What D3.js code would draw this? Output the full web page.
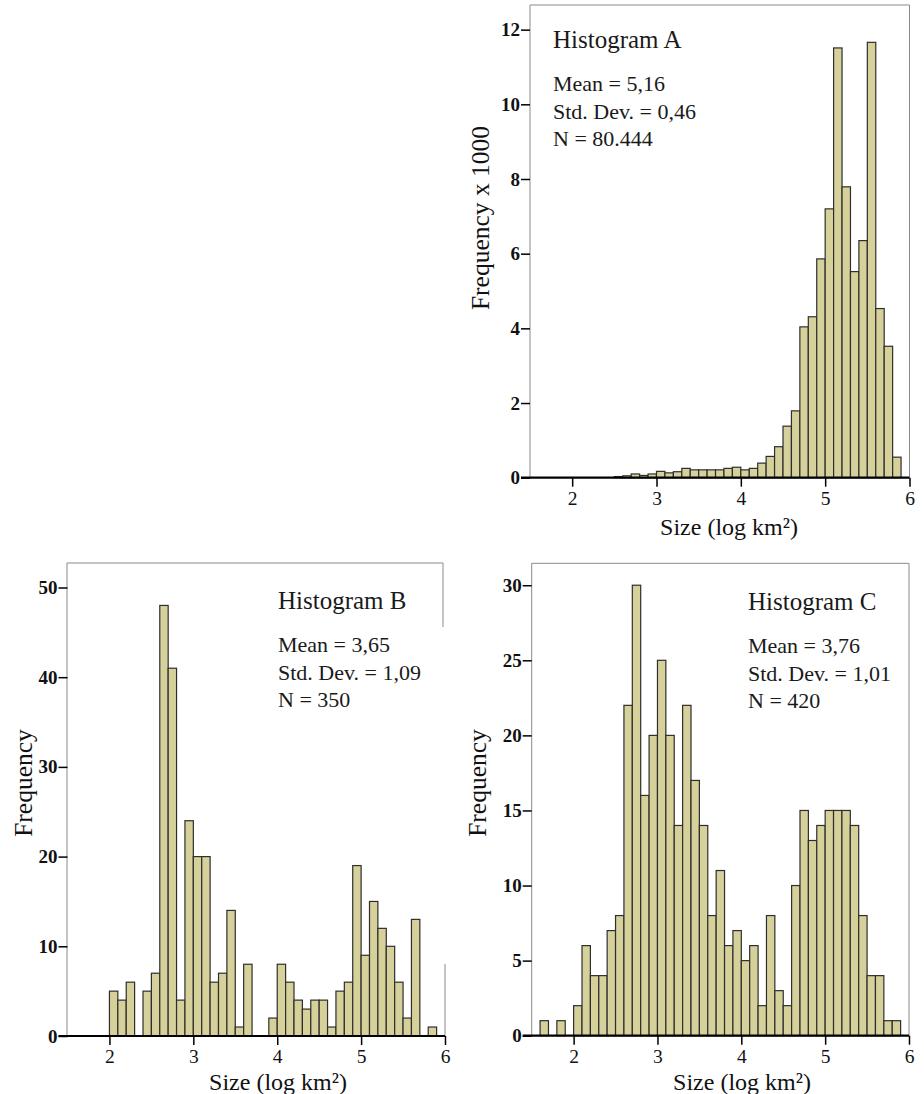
<!DOCTYPE html>
<html>
<head>
<meta charset="utf-8">
<script src="https://cdn.jsdelivr.net/npm/d3@7"></script>
<style>
  html, body { margin: 0; padding: 0; background: #fff; }
  svg { display: block; }
  svg text { font-family: "Liberation Serif", "Times New Roman", serif; }
</style>
</head>
<body>
<svg id="chart" width="924" height="1094"></svg>
<script>
// Lower edges of the 0.1-wide size bins (log km²)
const binStarts = [1.6, 1.7, 1.8, 1.9, 2.0, 2.1, 2.2, 2.3, 2.4, 2.5,
                   2.6, 2.7, 2.8, 2.9, 3.0, 3.1, 3.2, 3.3, 3.4, 3.5,
                   3.6, 3.7, 3.8, 3.9, 4.0, 4.1, 4.2, 4.3, 4.4, 4.5,
                   4.6, 4.7, 4.8, 4.9, 5.0, 5.1, 5.2, 5.3, 5.4, 5.5,
                   5.6, 5.7, 5.8];
const binWidth = 0.1;

// Histogram A: frequency in thousands
const countsA = [0, 0, 0, 0, 0, 0, 0, 0, 0, 0.03,
                 0.05, 0.10, 0.06, 0.10, 0.17, 0.13, 0.16, 0.25, 0.21, 0.21,
                 0.21, 0.21, 0.25, 0.28, 0.21, 0.25, 0.39, 0.57, 0.83, 1.38,
                 1.79, 4.04, 4.31, 5.86, 7.20, 11.51, 7.79, 5.52, 6.35, 11.66,
                 4.53, 3.52, 0.55];
// Histogram B
const countsB = [0, 0, 0, 0, 5, 4, 6, 0, 5, 7,
                 48, 41, 4, 24, 20, 20, 6, 7, 14, 1,
                 8, 0, 0, 2, 8, 6, 4, 3, 4, 4,
                 1, 5, 6, 19, 9, 15, 12, 10, 6, 2,
                 13, 0, 1];
// Histogram C
const countsC = [1, 0, 1, 0, 2, 6, 4, 4, 7, 8,
                 22, 30, 16, 20, 25, 20, 14, 22, 17, 14,
                 8, 11, 6, 7, 5, 6, 2, 8, 3, 2,
                 10, 15, 13, 14, 15, 15, 15, 14, 8, 4,
                 4, 1, 1];

const xTicks = [2, 3, 4, 5, 6];
const yTicksA = [0, 2, 4, 6, 8, 10, 12];
const yTicksB = [0, 10, 20, 30, 40, 50];
const yTicksC = [0, 5, 10, 15, 20, 25, 30];

const titles = ["Histogram A", "Histogram B", "Histogram C"];
const statsA = ["Mean = 5,16", "Std. Dev. = 0,46", "N = 80.444"];
const statsB = ["Mean = 3,65", "Std. Dev. = 1,09", "N = 350"];
const statsC = ["Mean = 3,76", "Std. Dev. = 1,01", "N = 420"];
const yTitles = ["Frequency x 1000", "Frequency", "Frequency"];
const xTitle = "Size (log km²)";

const SERIF = "'Liberation Serif', 'Times New Roman', serif";
const svg = d3.select("#chart");
const FILL = "#d6d09a";

function panel(opt) {
  const g = svg.append("g");
  const x = d3.scaleLinear().domain([1.5, 6]).range([opt.left, opt.right]);
  const y = d3.scaleLinear().domain([0, opt.yMax]).range([opt.base, opt.top]);

  // grey frame
  const fr = g.append("g").attr("stroke", "#8a8a8a").attr("stroke-width", 1).attr("fill", "none");
  (opt.frame || [
    [[opt.left, opt.top], [opt.right, opt.top]],
    [[opt.left, opt.top], [opt.left, opt.base]],
    [[opt.right, opt.top], [opt.right, opt.base]]
  ]).forEach(seg => fr.append("line")
    .attr("x1", seg[0][0]).attr("y1", seg[0][1])
    .attr("x2", seg[1][0]).attr("y2", seg[1][1]));

  // bars
  const data = binStarts.map((b, i) => ({ x0: b, x1: b + binWidth, v: opt.counts[i] }))
    .filter(d => d.v > 0);
  g.append("g").selectAll("rect").data(data).join("rect")
    .attr("x", d => x(d.x0))
    .attr("width", d => x(d.x1) - x(d.x0))
    .attr("y", d => y(d.v))
    .attr("height", d => y(0) - y(d.v))
    .attr("fill", FILL)
    .attr("stroke", "#2e2e2e")
    .attr("stroke-width", 1.2);

  // x axis
  const xa = g.append("g").attr("transform", `translate(0,${opt.base})`)
    .call(d3.axisBottom(x).tickValues(xTicks).tickSize(9).tickPadding(4).tickFormat(d3.format("d")));
  xa.attr("font-family", null).attr("font-size", null);
  xa.select(".domain").remove();
  xa.selectAll(".tick line").attr("stroke", "#000").attr("stroke-width", 1.5);
  xa.selectAll(".tick text")
    .style("font-family", SERIF).style("font-size", "19.5px").attr("fill", "#111");
  g.append("line")
    .attr("x1", opt.left - 9).attr("x2", opt.right)
    .attr("y1", opt.base).attr("y2", opt.base)
    .attr("stroke", "#000").attr("stroke-width", 2.2);

  // y axis
  const ya = g.append("g").attr("transform", `translate(${opt.left},0)`)
    .call(d3.axisLeft(y).tickValues(opt.yTicks).tickSize(9).tickPadding(1).tickFormat(d3.format("d")));
  ya.attr("font-family", null).attr("font-size", null);
  ya.select(".domain").remove();
  ya.selectAll(".tick line").attr("stroke", "#000").attr("stroke-width", 1.5);
  ya.selectAll(".tick text")
    .style("font-family", SERIF).style("font-size", "19px").style("font-weight", "bold")
    .attr("fill", "#111");

  // axis titles
  g.append("text")
    .attr("x", opt.xTitleX).attr("y", opt.xTitleY)
    .attr("text-anchor", "middle").attr("font-size", 24).attr("fill", "#111")
    .text(xTitle);
  g.append("text")
    .attr("transform", `translate(${opt.yTitleX},${opt.yTitleY}) rotate(-90)`)
    .attr("text-anchor", "middle").attr("font-size", 25.5).attr("fill", "#111")
    .text(opt.yTitle);

  // caption block
  g.append("text")
    .attr("x", opt.capX).attr("y", opt.capY)
    .attr("font-size", 25).attr("fill", "#1a1a1a")
    .text(opt.title);
  g.append("g").selectAll("text").data(opt.stats).join("text")
    .attr("x", opt.capX)
    .attr("y", (d, i) => opt.capY + 43 + i * 27.5)
    .attr("font-size", 22).attr("fill", "#1a1a1a")
    .text(d => d);
}

panel({
  left: 530, right: 909.5, top: 5, base: 477.7, yMax: 12.66,
  counts: countsA, yTicks: yTicksA, yTitle: yTitles[0], title: titles[0], stats: statsA,
  xTitleX: 729, xTitleY: 534.5, yTitleX: 489, yTitleY: 218, capX: 553, capY: 48
});

panel({
  left: 67.5, right: 445, top: 563, base: 1036, yMax: 52.73,
  counts: countsB, yTicks: yTicksB, yTitle: yTitles[1], title: titles[1], stats: statsB,
  xTitleX: 278, xTitleY: 1089.5, yTitleX: 32, yTitleY: 783, capX: 278, capY: 609,
  frame: [
    [[96, 563], [443, 563]],
    [[67, 563], [96, 563]],
    [[67, 563], [67, 1036]],
    [[443, 563], [443, 627]],
    [[445, 964], [445, 1036]]
  ]
});

panel({
  left: 531.7, right: 909, top: 563.3, base: 1035.7, yMax: 31.46,
  counts: countsC, yTicks: yTicksC, yTitle: yTitles[2], title: titles[2], stats: statsC,
  xTitleX: 742, xTitleY: 1089.5, yTitleX: 486, yTitleY: 783, capX: 748, capY: 610
});
</script>
</body>
</html>
